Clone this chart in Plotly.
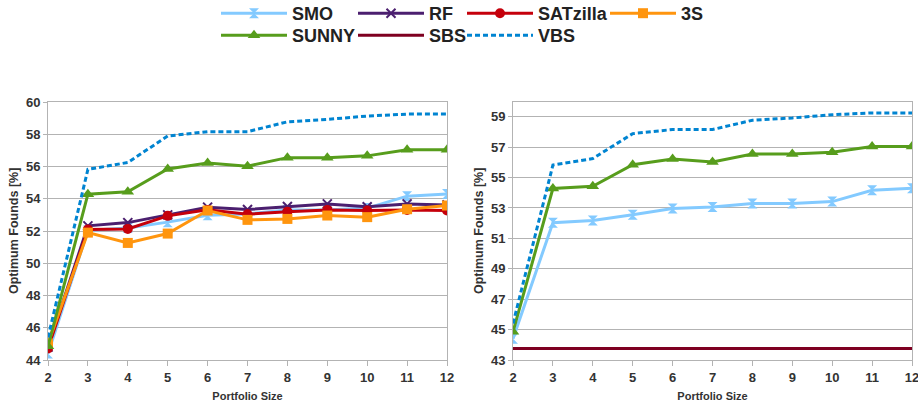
import plotly.graph_objects as go

sizes = [2, 3, 4, 5, 6, 7, 8, 9, 10, 11, 12]

smo = [44.4, 52.03, 52.18, 52.55, 52.97, 53.06, 53.3, 53.3, 53.42, 54.16, 54.29]
rf = [44.8, 52.32, 52.52, 53.0, 53.48, 53.33, 53.52, 53.68, 53.5, 53.68, 53.62]
satzilla = [44.72, 52.1, 52.13, 52.94, 53.31, 53.04, 53.2, 53.31, 53.27, 53.31, 53.27]
three_s = [45.03, 51.9, 51.26, 51.84, 53.27, 52.69, 52.75, 52.96, 52.86, 53.35, 53.58]
sunny = [44.85, 54.28, 54.43, 55.85, 56.22, 56.02, 56.55, 56.55, 56.66, 57.04, 57.04]
sbs = [43.75] * 11
vbs = [45.4, 55.82, 56.25, 57.89, 58.16, 58.16, 58.77, 58.92, 59.13, 59.25, 59.25]

left_yticks = [44, 46, 48, 50, 52, 54, 56, 58, 60]
right_yticks = [43, 45, 47, 49, 51, 53, 55, 57, 59]

C_SMO = "#83caff"
C_RF = "#4b1f6f"
C_SAT = "#c5000b"
C_3S = "#ff950e"
C_SUNNY = "#579d1c"
C_SBS = "#7e0021"
C_VBS = "#0084d1"

fig = go.Figure()

def add(x, y, name, color, symbol, msize, xa, ya, legend, showlegend, dash=None, mline=0, mode="lines+markers"):
    trace = dict(
        x=x, y=y, name=name, mode=mode,
        line=dict(color=color, width=3),
        xaxis=xa, yaxis=ya,
        legend=legend, showlegend=showlegend,
    )
    if dash:
        trace["line"]["dash"] = dash
    if symbol:
        trace["marker"] = dict(symbol=symbol, size=msize, color=color,
                               line=dict(width=mline, color=color))
    fig.add_trace(go.Scatter(**trace))

# left panel
add(sizes, smo, "SMO", C_SMO, "hourglass", 10, "x", "y", "legend", True)
add(sizes, rf, "RF", C_RF, "x-thin", 9, "x", "y", "legend2", True, mline=2)
add(sizes, satzilla, "SATzilla", C_SAT, "circle", 10, "x", "y", "legend3", True)
add(sizes, three_s, "3S", C_3S, "square", 10, "x", "y", "legend4", True)
add(sizes, sunny, "SUNNY", C_SUNNY, "triangle-up", 11, "x", "y", "legend5", True)
add(sizes, vbs, "VBS", C_VBS, None, 0, "x", "y", "legend7", False, dash="5px,3px", mode="lines")

# right panel
add(sizes, smo, "SMO", C_SMO, "hourglass", 10, "x2", "y2", "legend", False)
add(sizes, sunny, "SUNNY", C_SUNNY, "triangle-up", 11, "x2", "y2", "legend5", False)
add(sizes, sbs, "SBS", C_SBS, None, 0, "x2", "y2", "legend6", True, mode="lines")
add(sizes, vbs, "VBS", C_VBS, None, 0, "x2", "y2", "legend7", True, dash="5px,3px", mode="lines")

W, H = 918, 407
top, bottom = 102, 360
ydom = [1 - bottom / H, 1 - top / H]

FONT = "Liberation Sans, Arial"
tick_font = dict(family=FONT, size=13, color="#333333", weight="bold")
title_font_x = dict(family=FONT, size=11, color="#333333", weight="bold")
title_font_y = dict(family=FONT, size=12.5, color="#333333", weight="bold")

def xaxis_cfg(dom, anchor):
    return dict(
        domain=dom, anchor=anchor, range=[2, 12], tickvals=sizes,
        showgrid=False, zeroline=False,
        showline=True, linecolor="#b3b3b3", linewidth=1, mirror=True,
        ticks="outside", ticklen=5, tickcolor="#b3b3b3", tickfont=tick_font,
        ticklabeloverflow="allow",
        title=dict(text="Portfolio Size", font=title_font_x, standoff=8),
    )

def yaxis_cfg(rng, tv, anchor):
    return dict(
        domain=ydom, anchor=anchor, range=rng, tickvals=tv,
        showgrid=True, gridcolor="#b3b3b3", gridwidth=1, zeroline=False,
        showline=True, linecolor="#b3b3b3", linewidth=1, mirror=True,
        ticks="outside", ticklen=4, tickcolor="#b3b3b3", tickfont=tick_font,
        ticklabeloverflow="allow",
    )

def leg(xpx, row):
    yc = 13.5 if row == 1 else 35.5
    return dict(
        orientation="v", xref="container", yref="container",
        xanchor="left", yanchor="middle",
        x=(xpx - 7) / W, y=1 - yc / H,
        font=dict(family=FONT, size=18, color="#222222", weight="bold"),
        itemwidth=66, bgcolor="rgba(0,0,0,0)", borderwidth=0, tracegroupgap=0,
    )

ytitle_common = dict(
    text="Optimum Founds [%]", textangle=-90, showarrow=False,
    xref="paper", yref="paper", xanchor="center", yanchor="middle",
    y=(ydom[0] + ydom[1]) / 2, font=title_font_y,
)

fig.update_layout(
    width=W, height=H,
    margin=dict(l=0, r=0, t=0, b=0, autoexpand=False),
    paper_bgcolor="white", plot_bgcolor="white",
    xaxis=xaxis_cfg([48 / W, 447 / W], "y"),
    xaxis2=xaxis_cfg([513 / W, 912 / W], "y2"),
    yaxis=yaxis_cfg([44, 60], left_yticks, "x"),
    yaxis2=yaxis_cfg([43, 59.97], right_yticks, "x2"),
    legend=leg(223, 1),
    legend2=leg(360, 1),
    legend3=leg(469, 1),
    legend4=leg(612, 1),
    legend5=leg(223, 2),
    legend6=leg(360, 2),
    legend7=leg(469, 2),
    showlegend=True,
    annotations=[
        dict(ytitle_common, x=14 / W),
        dict(ytitle_common, x=479 / W),
    ],
)

fig.write_html(
    "out.html",
    config={"displayModeBar": False},
    post_script="document.body.style.margin='0';document.body.style.padding='0';",
)
